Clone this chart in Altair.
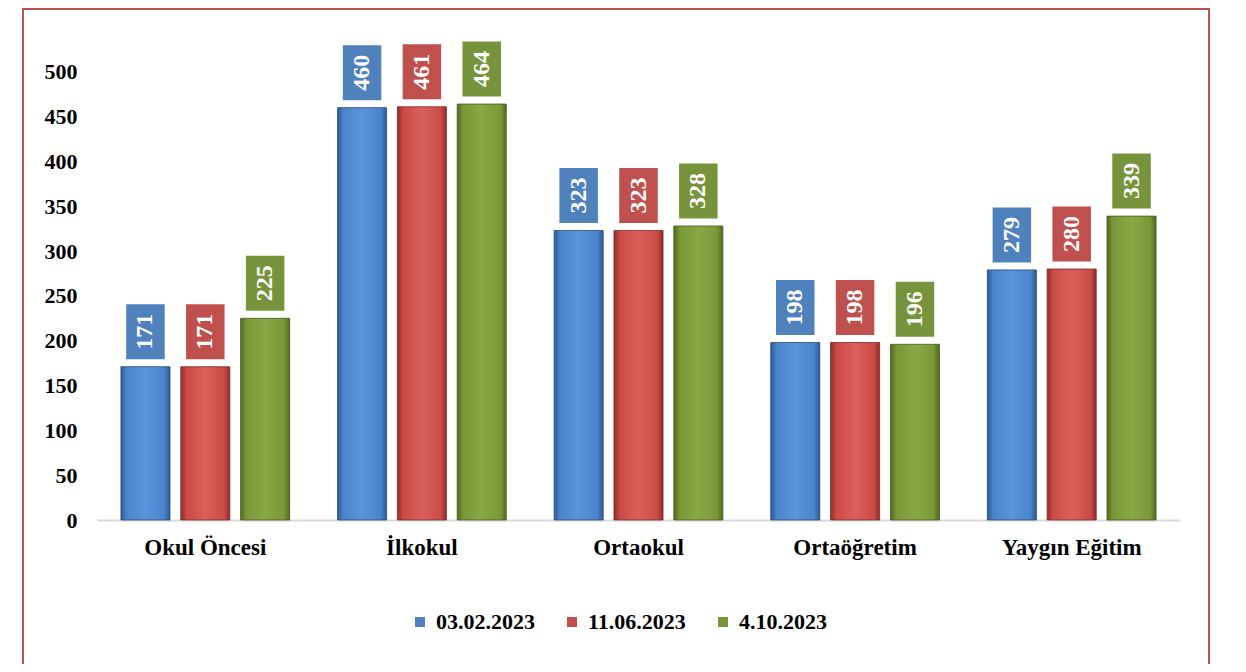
import altair as alt
import pandas as pd

categories = ["Okul Öncesi", "İlkokul", "Ortaokul", "Ortaöğretim", "Yaygın Eğitim"]
series = ["03.02.2023", "11.06.2023", "4.10.2023"]
v_0302 = [171, 460, 323, 198, 279]
v_1106 = [171, 461, 323, 198, 280]
v_0410 = [225, 464, 328, 196, 339]
y_ticks = [0, 50, 100, 150, 200, 250, 300, 350, 400, 450, 500]

box_colors = ["#4f81bd", "#c0504d", "#77933c"]
grads = [
    ["#2d5a93", "#4a84cc", "#5a94db", "#4a84cc", "#2d5a93"],
    ["#8c2d2a", "#cc4b46", "#d9605b", "#cc4b46", "#8c2d2a"],
    ["#50691f", "#7a9838", "#88a845", "#7a9838", "#50691f"],
]
strokes = ["#2a4a75", "#7a2a28", "#465c1d"]

rows = []
for s, vals in zip(series, [v_0302, v_1106, v_0410]):
    for c, v in zip(categories, vals):
        rows.append({"cat": c, "ser": s, "val": v})
df = pd.DataFrame(rows)

FONT = "Liberation Serif"

x_enc = alt.X("cat:N", sort=categories, title=None,
              scale=alt.Scale(paddingInner=0, paddingOuter=0),
              axis=alt.Axis(labelFont=FONT, labelFontSize=23, labelFontWeight="bold",
                            labelColor="#000000", labelAngle=0, labelPadding=16,
                            ticks=False, domainColor="#d9d9d9", domainWidth=2,
                            grid=False))
xo_enc = alt.XOffset("ser:N", sort=series,
                     scale=alt.Scale(domain=series, paddingInner=0.18, paddingOuter=0.4))
y_enc = alt.Y("val:Q", title=None,
              scale=alt.Scale(domain=[0, 560], nice=False),
              axis=alt.Axis(values=y_ticks, labelFont=FONT, labelFontSize=22,
                            labelFontWeight="bold", labelColor="#000000",
                            labelPadding=20, ticks=False, domain=False, grid=False))

base = alt.Chart(df)

bar_layers = []
for i, s in enumerate(series):
    stops = [alt.GradientStop(offset=o, color=c)
             for o, c in zip([0, 0.12, 0.5, 0.88, 1], grads[i])]
    bar_layers.append(
        base.transform_filter(alt.datum.ser == s).mark_bar(
            color=alt.LinearGradient(gradient="linear", stops=stops, x1=0, x2=1, y1=0, y2=0),
            stroke=strokes[i], strokeWidth=1, strokeOpacity=0.8
        ).encode(x=x_enc, xOffset=xo_enc, y=y_enc)
    )

box_path = "M-0.7,-1H0.7V1H-0.7Z"
boxes = base.mark_point(shape=box_path, size=3025, filled=True, opacity=1,
                        yOffset=-35, strokeWidth=0).encode(
    x=x_enc, xOffset=xo_enc, y=y_enc,
    color=alt.Color("ser:N", sort=series, title=None,
                    scale=alt.Scale(domain=series, range=box_colors),
                    legend=alt.Legend(orient="none", legendX=312, legendY=593,
                                      direction="horizontal", columns=3,
                                      symbolType="square", symbolSize=100,
                                      symbolStrokeWidth=0, labelFont=FONT,
                                      labelFontSize=22, labelFontWeight="bold",
                                      labelColor="#000000", labelOffset=5,
                                      columnPadding=26))
)

labels = base.mark_text(angle=270, yOffset=-35, font=FONT, fontSize=24,
                        fontWeight="bold", color="white", align="center",
                        baseline="middle").encode(
    x=x_enc, xOffset=xo_enc, y=y_enc, text="val:Q"
)

frame = alt.Chart(pd.DataFrame({"a": [0]})).mark_rect(
    filled=False, stroke="#c0504d", strokeWidth=2
).encode(x=alt.value(-74), x2=alt.value(1112), y=alt.value(-9), y2=alt.value(700))

chart = alt.layer(frame, *bar_layers, boxes, labels).properties(
    width=1083, height=502,
    autosize=alt.AutoSizeParams(type="none"),
    padding={"left": 89, "top": 10, "right": 58, "bottom": 144},
).configure_view(stroke=None)

chart.save("out.html", embed_options={"renderer": "svg", "actions": False})
